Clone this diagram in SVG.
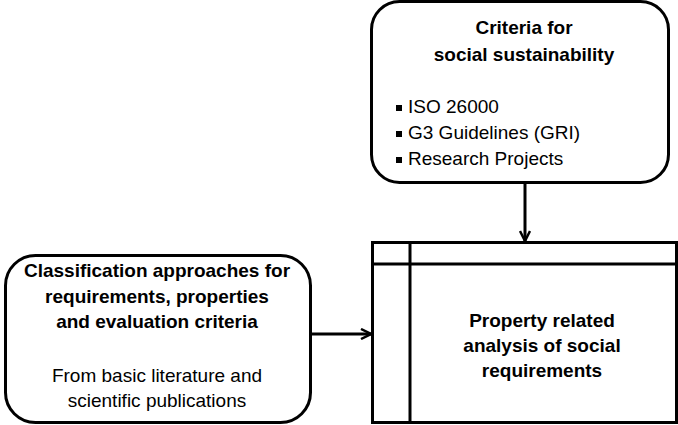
<svg xmlns="http://www.w3.org/2000/svg" width="678" height="425" viewBox="0 0 678 425">
<style>
.box{fill:#fff;stroke:#000;stroke-width:3}
.line{fill:none;stroke:#000;stroke-width:3}
.b{font-family:"Liberation Sans",Arial,sans-serif;font-size:19px;font-weight:bold;text-anchor:middle;fill:#000}
.r{font-family:"Liberation Sans",Arial,sans-serif;font-size:19px;fill:#000}
.rc{font-family:"Liberation Sans",Arial,sans-serif;font-size:19px;fill:#000;text-anchor:middle}
</style>
<defs>
<marker id="arr" viewBox="0 0 12 12" refX="11" refY="6" markerWidth="12" markerHeight="12" markerUnits="userSpaceOnUse" orient="auto">
<polyline points="1,1 11,6 1,11" fill="none" stroke="#000" stroke-width="2.5"/>
</marker>
</defs>
<g id="criteria">
<rect class="box" x="371.5" y="1.5" width="297" height="181" rx="28"/>
<text class="b" x="524" y="34">Criteria for</text>
<text class="b" x="524" y="61">social sustainability</text>
<rect x="396" y="105" width="6" height="6" fill="#000"/>
<text class="r" x="408" y="113">ISO 26000</text>
<rect x="396" y="131" width="6" height="6" fill="#000"/>
<text class="r" x="408" y="139">G3 Guidelines (GRI)</text>
<rect x="396" y="157" width="6" height="6" fill="#000"/>
<text class="r" x="408" y="165">Research Projects</text>
</g>
<g id="classification">
<rect class="box" x="5.5" y="255.5" width="305" height="167" rx="30"/>
<text class="b" x="157" y="277">Classification approaches for</text>
<text class="b" x="157" y="303">requirements, properties</text>
<text class="b" x="157" y="328">and evaluation criteria</text>
<text class="rc" x="157" y="382">From basic literature and</text>
<text class="rc" x="157" y="407">scientific publications</text>
</g>
<g id="analysis">
<rect class="box" x="372.5" y="242.5" width="304" height="180"/>
<line class="line" x1="372" y1="264" x2="677" y2="264"/>
<line class="line" x1="410" y1="242" x2="410" y2="423"/>
<text class="b" x="542" y="327">Property related</text>
<text class="b" x="542" y="352">analysis of social</text>
<text class="b" x="542" y="377">requirements</text>
</g>
<g id="connectors">
<line class="line" x1="525" y1="183" x2="525" y2="241" marker-end="url(#arr)"/>
<line class="line" x1="311" y1="334" x2="371" y2="334" marker-end="url(#arr)"/>
</g>
</svg>
